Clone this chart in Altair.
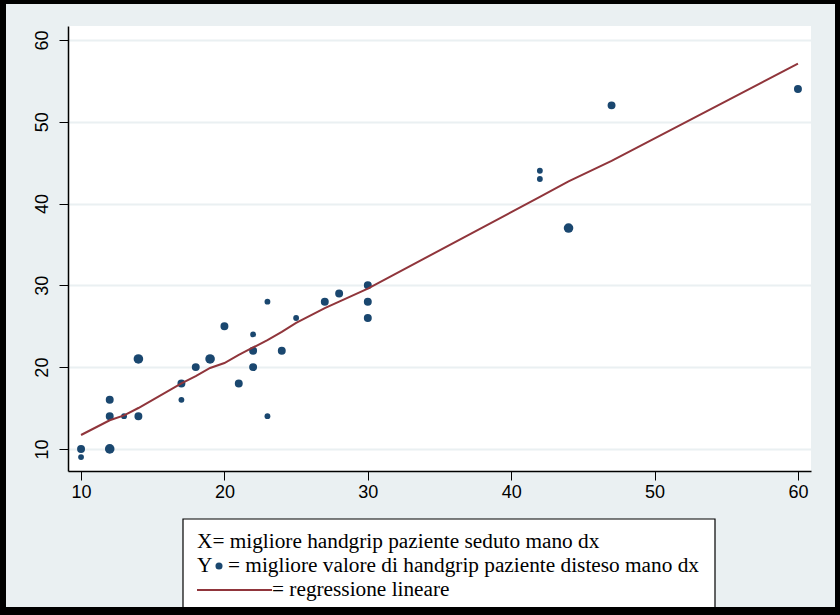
import altair as alt
import pandas as pd

# ---- data ----
seduto = [10, 10, 12, 12, 12, 13, 14, 14, 17, 17, 18, 19, 20, 21, 22, 22, 22, 23, 23, 24, 25, 27, 28, 30, 30, 30, 42, 42, 44, 47, 60]
disteso = [10, 9, 10, 14, 16, 14, 14, 21, 18, 16, 20, 21, 25, 18, 24, 22, 20, 28, 14, 22, 26, 28, 29, 30, 28, 26, 44, 43, 37, 52, 54]
freq = [2, 1, 3, 2, 2, 1, 2, 3, 2, 1, 2, 3, 2, 2, 1, 2, 2, 1, 1, 2, 1, 2, 2, 2, 2, 2, 1, 1, 3, 2, 2]

fit_x = [10, 12, 13, 14, 17, 18, 19, 20, 21, 22, 23, 24, 25, 27, 28, 30, 42, 44, 47, 60]
fit_y = [11.7, 13.5, 14.1, 15.0, 18.0, 18.9, 19.9, 20.5, 21.5, 22.4, 23.3, 24.3, 25.4, 27.2, 28.0, 29.6, 40.8, 42.7, 45.2, 57.1]

x_ticks = [10, 20, 30, 40, 50, 60]
y_ticks = [10, 20, 30, 40, 50, 60]

legend_x_text = "X= migliore handgrip  paziente seduto mano dx"
legend_y_letter = "Y"
legend_y_text = "= migliore valore di handgrip  paziente disteso mano dx"
legend_fit_text = "= regressione  lineare"

NAVY = "#1a476f"
MAROON = "#90353b"
BG = "#eaf0f2"

pts = pd.DataFrame({"seduto": seduto, "disteso": disteso, "freq": freq})
fit = pd.DataFrame({"seduto": fit_x, "disteso": fit_y})

xs = alt.Scale(domain=[9.09, 60.91], nice=False, zero=False)
ys = alt.Scale(domain=[7.3, 61.7], nice=False, zero=False)

xaxis = alt.Axis(values=x_ticks, title=None, grid=False, domainColor="black", domainWidth=1.5,
                 tickColor="black", tickSize=9, labelFontSize=18, labelFont="Liberation Sans",
                 labelColor="black", labelPadding=3, labelFlush=False)
yaxis = alt.Axis(values=y_ticks, title=None, grid=True, gridColor=BG, gridWidth=2,
                 domainColor="black", domainWidth=1.5, tickColor="black", tickSize=9,
                 labelFontSize=18, labelFont="Liberation Sans", labelColor="black",
                 labelAngle=-90, labelAlign="center", labelBaseline="bottom", labelPadding=8,
                 labelFlush=False)

points = alt.Chart(pts).mark_point(filled=True, opacity=1, color=NAVY, shape="circle").encode(
    x=alt.X("seduto:Q", scale=xs, axis=xaxis),
    y=alt.Y("disteso:Q", scale=ys, axis=yaxis),
    size=alt.Size("freq:Q", scale=alt.Scale(domain=[1, 3], range=[34, 92]), legend=None),
)

line = alt.Chart(fit).mark_line(color=MAROON, strokeWidth=2).encode(
    x=alt.X("seduto:Q", scale=xs),
    y=alt.Y("disteso:Q", scale=ys),
)

one = pd.DataFrame({"k": [0]})
OX, OY = 68, 26  # view origin inside the 840x615 canvas

def cx(v):
    return alt.value(v - OX)

def cy(v):
    return alt.value(v - OY)

legend_box = alt.Chart(one).mark_rect(fill="white", stroke="black", strokeWidth=1.2).encode(
    x=cx(183), x2=cx(715), y=cy(519), y2=cy(620))

def txt(s, x, y, color="black", size=21.3):
    return alt.Chart(pd.DataFrame({"t": [s]})).mark_text(
        align="left", baseline="alphabetic", font="Liberation Serif", fontSize=size, color=color
    ).encode(x=cx(x), y=cy(y), text="t:N")

t1 = txt(legend_x_text, 197, 548)
t2a = txt(legend_y_letter, 197, 572)
dot = alt.Chart(one).mark_point(filled=True, opacity=1, color=NAVY, shape="circle", size=50).encode(
    x=cx(219), y=cy(566))
t2b = txt(legend_y_text, 228, 572)
seg = alt.Chart(one).mark_rule(color=MAROON, strokeWidth=2).encode(
    x=cx(197), x2=cx(272), y=cy(590))
t3 = txt(legend_fit_text, 272, 596)

frame_left = alt.Chart(one).mark_rect(color="black").encode(x=cx(0), x2=cx(6), y=cy(0), y2=cy(615))
frame_right = alt.Chart(one).mark_rect(color="black").encode(x=cx(835), x2=cx(840), y=cy(0), y2=cy(615))
frame_top = alt.Chart(one).mark_rect(color="black").encode(x=cx(0), x2=cx(840), y=cy(0), y2=cy(4))
frame_bottom = alt.Chart(one).mark_rect(color="black").encode(x=cx(0), x2=cx(840), y=cy(607), y2=cy(615))

chart = alt.layer(
    points, line, legend_box, t1, t2a, dot, t2b, seg, t3,
    frame_left, frame_right, frame_top, frame_bottom
).properties(
    width=743, height=445,
    autosize=alt.AutoSizeParams(type="none"),
    padding={"left": OX, "top": OY, "right": 840 - OX - 743, "bottom": 615 - OY - 445},
    background=BG,
).configure_view(fill="white", stroke=None)

chart.save("out.html", embed_options={"renderer": "svg", "actions": False})
